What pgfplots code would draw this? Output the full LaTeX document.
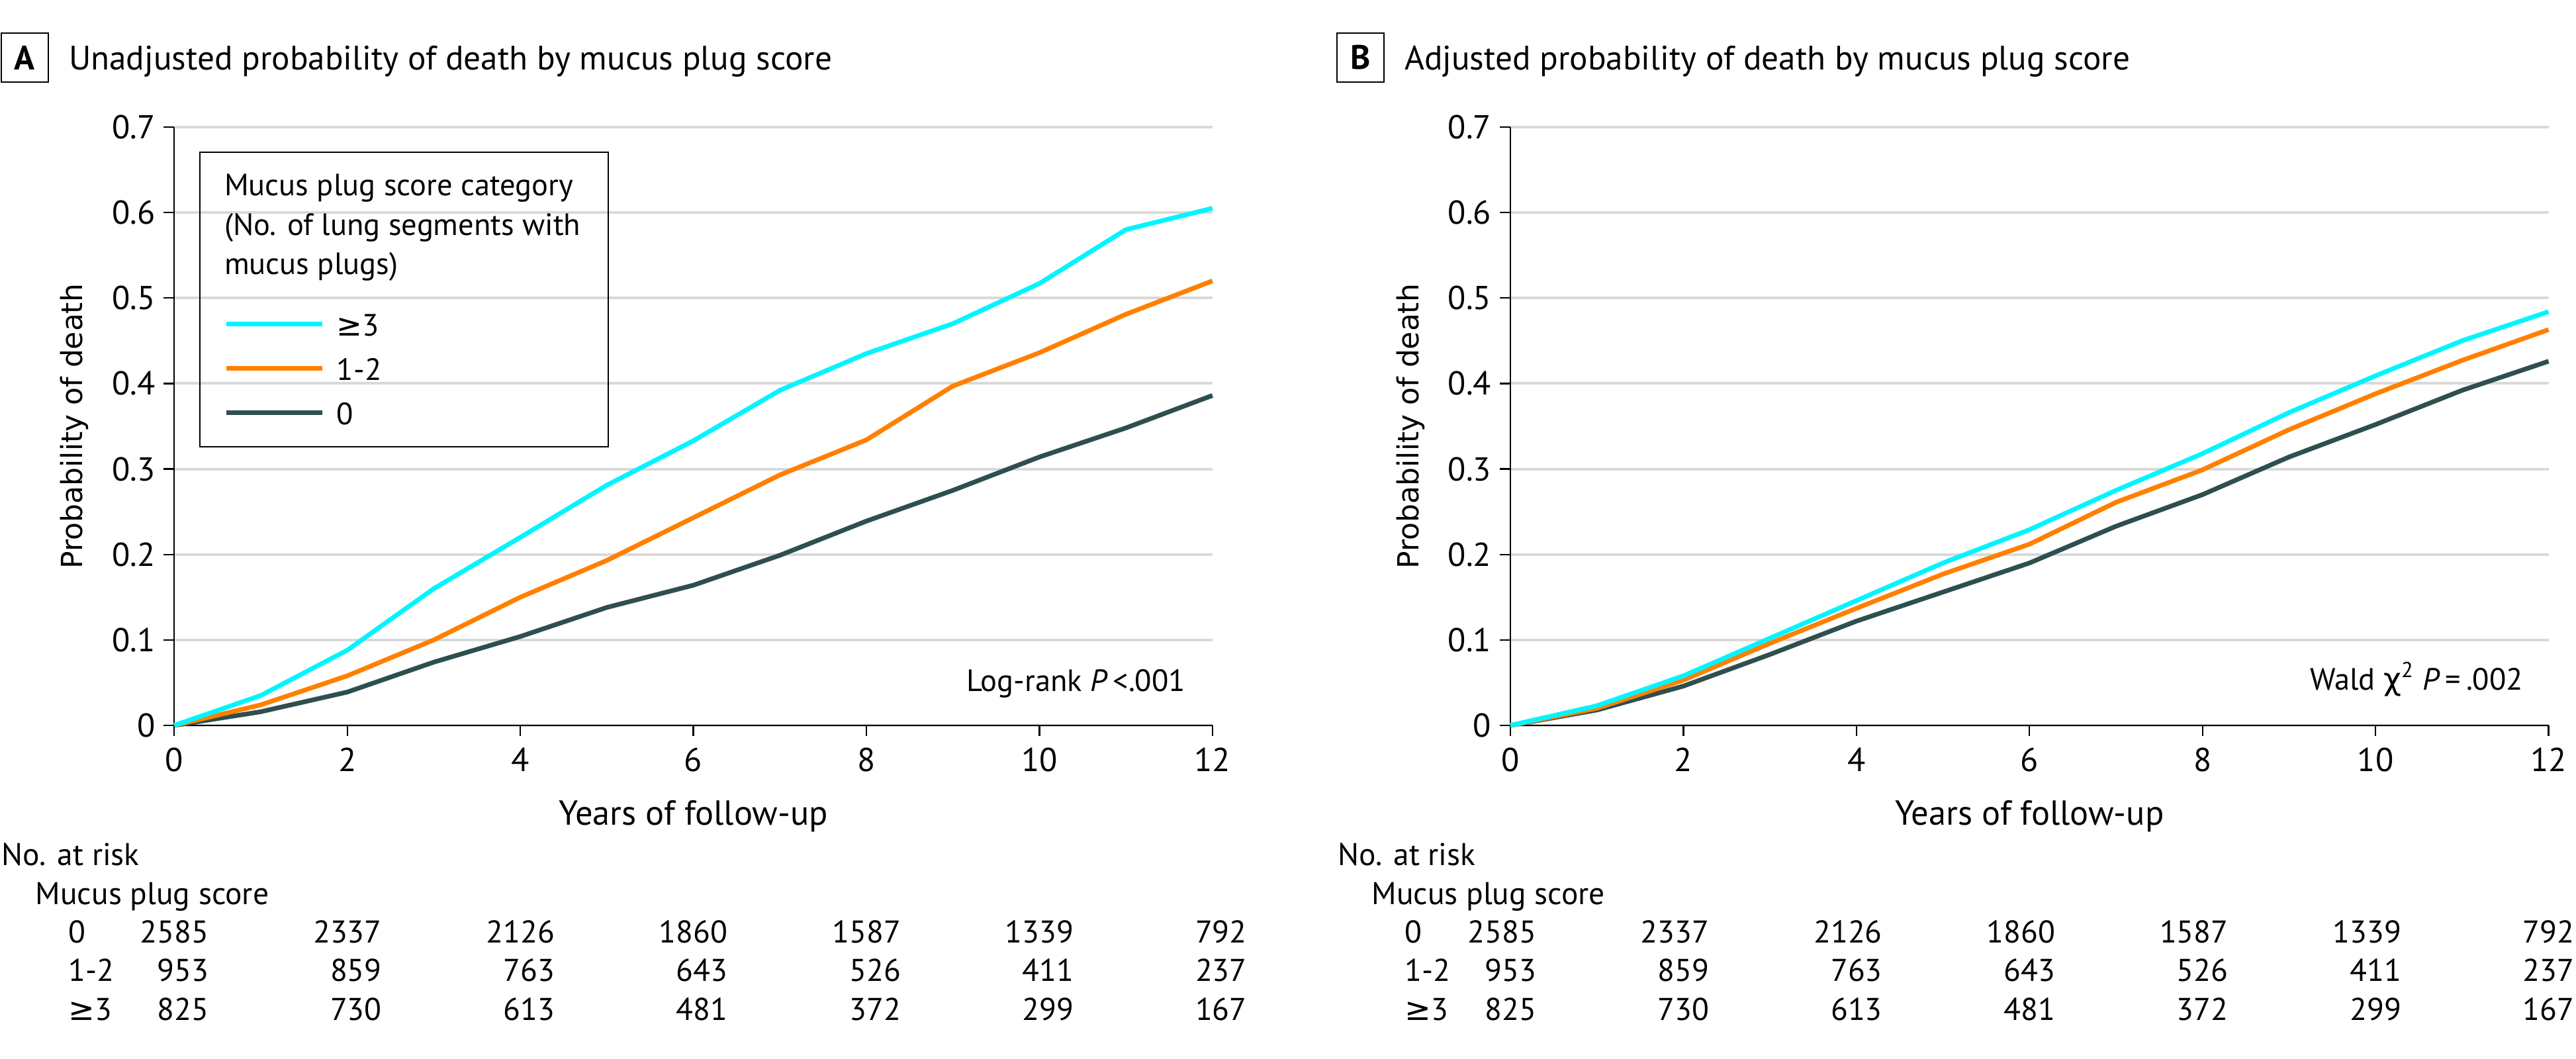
\documentclass[border=0pt]{standalone}
\usepackage{fontspec}
\setmainfont{PT Sans}
\newfontfamily\symfont{DejaVu Sans}
\usepackage{pgfplots}
\pgfplotsset{compat=1.18}

\definecolor{cgeq}{HTML}{00F5FF}
\definecolor{cmid}{HTML}{FF8000}
\definecolor{czero}{HTML}{2F4F4F}
\definecolor{cgrid}{HTML}{D9D9D9}

\newcommand{\tickfont}{\fontsize{10}{12}\selectfont}
\newcommand{\tabfont}{\fontsize{9.5}{11}\selectfont}
\newcommand{\titlefont}{\fontsize{10.25}{12}\selectfont}
\newcommand{\gesym}{{\symfont ≥}}

\pgfplotsset{
  km/.style={
    scale only axis, width=313.7pt, height=180.8pt,
    anchor=south west,
    xmin=0, xmax=12, ymin=0, ymax=0.7,
    xtick={0,2,4,6,8,10,12},
    ytick={0,0.1,0.2,0.3,0.4,0.5,0.6,0.7},
    axis x line*=bottom, axis y line*=left,
    axis line style={line width=0.45pt},
    tick align=outside, major tick length=3.2pt,
    tick style={black, line width=0.45pt},
    ymajorgrids, grid style={cgrid, line width=0.8pt},
    /pgf/number format/assume math mode=true,
    /pgf/number format/fixed,
    ticklabel style={font=\tickfont},
    yticklabel style={inner sep=2.4pt},
    xticklabel style={inner sep=3.4pt},
    xlabel={Years of follow-up},
    xlabel style={at={(axis description cs:0.5,-0.167)}, anchor=base, font=\fontsize{10.5}{12}\selectfont},
    ylabel={Probability of death},
    ylabel style={at={(axis description cs:-0.096,0.5)}, anchor=center, font=\symfont\fontsize{8.8}{10}\selectfont},
    clip=false,
    every axis plot/.append style={line width=1.4pt, line join=round},
  }
}

% #1 = left edge of the axis (pt), #2 = offset of the right edge of the numbers from the tick (pt)
\newcommand{\risktable}[2]{%
  \node[anchor=base west, font=\tabfont, inner sep=0pt] at ({#1pt-52.3pt},58.4pt) {No. at risk};
  \node[anchor=base west, font=\tabfont, inner sep=0pt] at ({#1pt-42.1pt},46.6pt) {Mucus plug score};
  \node[anchor=base west, font=\tabfont, inner sep=0pt] at ({#1pt-32.1pt},35pt) {0};
  \node[anchor=base west, font=\tabfont, inner sep=0pt] at ({#1pt-32.1pt},23.4pt) {1-2};
  \node[anchor=base west, font=\tabfont, inner sep=0pt] at ({#1pt-32.1pt},11.6pt) {\gesym3};
  \foreach \v [count=\i from 0] in {2585,2337,2126,1860,1587,1339,792}
    \node[anchor=base east, font=\tabfont, inner sep=0pt] at ({#1pt+\i*52.28pt+#2pt},35pt) {\v};
  \foreach \v [count=\i from 0] in {953,859,763,643,526,411,237}
    \node[anchor=base east, font=\tabfont, inner sep=0pt] at ({#1pt+\i*52.28pt+#2pt},23.4pt) {\v};
  \foreach \v [count=\i from 0] in {825,730,613,481,372,299,167}
    \node[anchor=base east, font=\tabfont, inner sep=0pt] at ({#1pt+\i*52.28pt+#2pt},11.6pt) {\v};
}

\begin{document}
\begin{tikzpicture}
\path[use as bounding box] (0,0) rectangle (778.4pt,320pt);

% panel titles
\node[draw, line width=0.5pt, minimum width=14.2pt, minimum height=14.8pt, inner sep=0pt,
      font=\titlefont\bfseries] at (7.5pt,302.6pt) {A};
\node[anchor=base west, inner sep=0pt, font=\titlefont] at (20.6pt,298.8pt)
  {Unadjusted probability of death by mucus plug score};
\node[draw, line width=0.5pt, minimum width=14.2pt, minimum height=14.8pt, inner sep=0pt,
      font=\titlefont\bfseries] at (411.1pt,302.6pt) {B};
\node[anchor=base west, inner sep=0pt, font=\titlefont] at (424.2pt,298.8pt)
  {Adjusted probability of death by mucus plug score};

% panel A
\begin{axis}[km, at={(52.66pt,100.8pt)},
  legend cell align=left, reverse legend,
  legend style={draw=none, fill=none, inner sep=0pt,
    at={(axis description cs:0.0476,0.6908)}, anchor=north west,
    row sep=6.4pt, column sep=3.6pt,
    nodes={inner sep=0pt, text height=7pt, text depth=0pt, font=\fontsize{9.3}{11}\selectfont}},
  legend image code/.code={\draw[#1] (0pt,0pt) -- (29pt,0pt);},
]
\addplot[czero] coordinates {(0,0)(1,0.016)(2,0.039)(3,0.074)(4,0.104)(5,0.138)(6,0.164)(7,0.199)(8,0.239)(9,0.275)(10,0.314)(11,0.348)(12,0.386)};
\addlegendentry{0}
\addplot[cmid] coordinates {(0,0)(1,0.024)(2,0.058)(3,0.100)(4,0.150)(5,0.193)(6,0.243)(7,0.293)(8,0.334)(9,0.397)(10,0.436)(11,0.481)(12,0.520)};
\addlegendentry{1-2}
\addplot[cgeq] coordinates {(0,0)(1,0.035)(2,0.088)(3,0.160)(4,0.220)(5,0.281)(6,0.333)(7,0.392)(8,0.435)(9,0.470)(10,0.517)(11,0.580)(12,0.605)};
\addlegendentry{\gesym3}
\end{axis}

% legend frame and title for panel A
\draw[line width=0.5pt] (60.4pt,185pt) rectangle (183.8pt,274pt);
\node[anchor=base west, inner sep=0pt, font=\fontsize{9.3}{11}\selectfont] at (67.6pt,260.8pt) {Mucus plug score category};
\node[anchor=base west, inner sep=0pt, font=\fontsize{9.3}{11}\selectfont] at (67.6pt,248.8pt) {(No. of lung segments with};
\node[anchor=base west, inner sep=0pt, font=\fontsize{9.3}{11}\selectfont] at (67.6pt,237pt) {mucus plugs)};

\node[anchor=base east, inner sep=0pt, font=\fontsize{9.3}{11}\selectfont] at (358.4pt,111pt) {Log-rank \textit{P}\,<.001};

% panel B
\begin{axis}[km, at={(456.4pt,100.8pt)}]
\addplot[czero] coordinates {(0,0)(1,0.018)(2,0.046)(3,0.083)(4,0.122)(5,0.156)(6,0.190)(7,0.233)(8,0.270)(9,0.314)(10,0.352)(11,0.392)(12,0.426)};
\addplot[cmid] coordinates {(0,0)(1,0.020)(2,0.053)(3,0.096)(4,0.137)(5,0.177)(6,0.212)(7,0.261)(8,0.299)(9,0.346)(10,0.388)(11,0.427)(12,0.463)};
\addplot[cgeq] coordinates {(0,0)(1,0.023)(2,0.058)(3,0.102)(4,0.146)(5,0.190)(6,0.229)(7,0.275)(8,0.318)(9,0.366)(10,0.409)(11,0.450)(12,0.484)};
\end{axis}

\node[anchor=base east, inner sep=0pt, font=\fontsize{9.3}{11}\selectfont] at (762.6pt,111.4pt)
  {Wald {\symfont χ}\textsuperscript{2} \textit{P}\,=\,.002};

% numbers at risk
\risktable{52.66}{10.6}
\risktable{456.4}{8}
\end{tikzpicture}
\end{document}
